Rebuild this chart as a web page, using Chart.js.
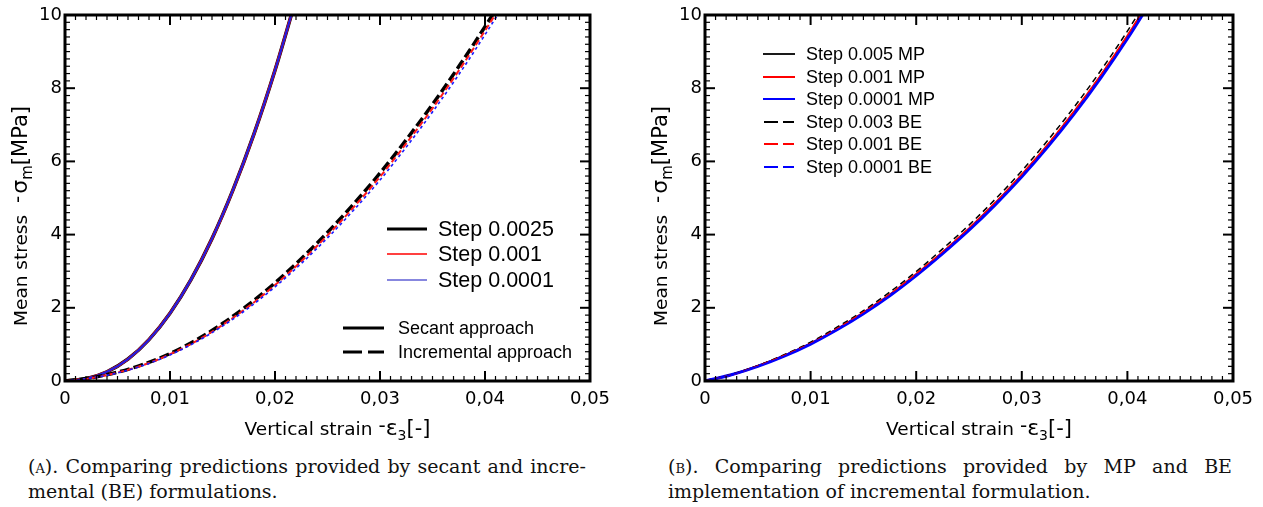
<!DOCTYPE html>
<html>
<head>
<meta charset="utf-8">
<script src="https://cdn.jsdelivr.net/npm/chart.js@4/dist/chart.umd.min.js"></script>
<style>
    body { margin: 0; background: #fff; width: 1263px; height: 507px; position: relative; overflow: hidden; }
    canvas { position: absolute; top: 0; }
    .cap { position: absolute; font-family: "DejaVu Serif", serif; font-size: 19px; line-height: 25px; color: #111; }
    .cap div { text-align: justify; text-align-last: justify; white-space: nowrap; }
    .cap div.last { text-align-last: left; }
    .sc { font-variant: small-caps; }
</style>
</head>
<body>
<canvas id="left" width="640" height="450" style="left:0"></canvas>
<canvas id="right" width="640" height="450" style="left:640px"></canvas>
<div class="cap" style="left:28px; top:454px; width:558px">
    <div>(<span class="sc">a</span>). Comparing predictions provided by secant and incre-</div>
    <div class="last">mental (BE) formulations.</div>
</div>
<div class="cap" style="left:668px; top:454px; width:564px">
    <div>(<span class="sc">b</span>). Comparing predictions provided by MP and BE</div>
    <div class="last">implementation of incremental formulation.</div>
</div>
<script>
// secant formulation (the three step sizes coincide)
const secantStrain = [0, 0.002, 0.004, 0.006, 0.008, 0.010, 0.012, 0.014, 0.016, 0.018, 0.020, 0.022];
const secantStress = [0, 0.06, 0.25, 0.60, 1.13, 1.85, 2.77, 3.89, 5.22, 6.75, 8.49, 10.44];

// incremental formulation, shared strain grid
const incStrain = [0, 0.0025, 0.005, 0.0075, 0.01, 0.0125, 0.015, 0.0175, 0.02, 0.0225,
    0.025, 0.0275, 0.03, 0.0325, 0.035, 0.0375, 0.04, 0.0425];
const incStep0025 = [0, 0.09, 0.24, 0.46, 0.75, 1.12, 1.57, 2.09, 2.68, 3.34, 4.06, 4.84, 5.68, 6.59, 7.56, 8.59, 9.68, 10.82];
const incStep001 = [0, 0.08, 0.23, 0.44, 0.73, 1.09, 1.53, 2.04, 2.62, 3.27, 3.98, 4.75, 5.58, 6.49, 7.45, 8.48, 9.57, 10.71];
const incStep0001 = [0, 0.08, 0.22, 0.43, 0.71, 1.07, 1.50, 2.00, 2.57, 3.21, 3.91, 4.67, 5.49, 6.39, 7.35, 8.37, 9.46, 10.60];

// MP / BE implementations
const mpStep005 = [0, 0.17, 0.41, 0.69, 1.02, 1.41, 1.86, 2.35, 2.90, 3.51, 4.15, 4.85, 5.62, 6.45, 7.35, 8.34, 9.40, 10.55];
const mpStep001 = [0, 0.17, 0.41, 0.69, 1.03, 1.42, 1.87, 2.36, 2.92, 3.52, 4.17, 4.87, 5.64, 6.47, 7.38, 8.36, 9.43, 10.58];
const mpStep0001 = [0, 0.17, 0.40, 0.68, 1.01, 1.40, 1.84, 2.33, 2.88, 3.48, 4.12, 4.82, 5.58, 6.41, 7.31, 8.29, 9.35, 10.50];
const beStep003 = [0, 0.18, 0.42, 0.72, 1.06, 1.47, 1.92, 2.43, 2.99, 3.61, 4.26, 4.97, 5.74, 6.59, 7.50, 8.49, 9.56, 10.72];
const beStep001 = [0, 0.17, 0.41, 0.70, 1.03, 1.43, 1.88, 2.37, 2.93, 3.53, 4.18, 4.88, 5.65, 6.48, 7.39, 8.37, 9.44, 10.60];
const beStep0001 = [0, 0.17, 0.40, 0.68, 1.01, 1.40, 1.84, 2.33, 2.88, 3.49, 4.13, 4.83, 5.59, 6.42, 7.32, 8.30, 9.36, 10.51];

const xTicks = [0, 0.01, 0.02, 0.03, 0.04, 0.05];
const yTicks = [0, 2, 4, 6, 8, 10];

const SANS = '"DejaVu Sans", sans-serif';
const ARIAL = '"Liberation Sans", Arial, sans-serif';

function pts(xs, ys) {
    return xs.map((x, i) => ({ x: x, y: ys[i] }));
}

function series(xs, ys, color, width, dash) {
    return {
        data: pts(xs, ys),
        borderColor: color,
        borderWidth: width,
        borderDash: dash || [],
        pointRadius: 0,
        cubicInterpolationMode: 'monotone',
        fill: false
    };
}

function line(ctx, x0, y0, x1, y1) {
    ctx.beginPath();
    ctx.moveTo(x0, y0);
    ctx.lineTo(x1, y1);
    ctx.stroke();
}

// inner ticks on all four sides plus the heavy frame
const framePlugin = {
    id: 'frame',
    afterDraw(chart) {
        const { ctx, chartArea: a, scales: { x, y } } = chart;
        ctx.save();
        ctx.strokeStyle = '#000';
        for (let i = 0; i <= 50; i++) {
            const px = x.getPixelForValue(i * 0.001);
            const major = i % 10 === 0;
            ctx.lineWidth = major ? 2 : 1.2;
            const len = major ? 10 : 5;
            line(ctx, px, a.bottom, px, a.bottom - len);
            line(ctx, px, a.top, px, a.top + len);
        }
        for (let i = 0; i <= 50; i++) {
            const py = y.getPixelForValue(i * 0.2);
            const major = i % 10 === 0;
            ctx.lineWidth = major ? 2 : 1.2;
            const len = major ? 10 : 5;
            line(ctx, a.left, py, a.left + len, py);
            line(ctx, a.right, py, a.right - len, py);
        }
        ctx.lineWidth = 3;
        ctx.strokeRect(a.left, a.top, a.right - a.left, a.bottom - a.top);
        ctx.restore();
    }
};

// axis titles: plain words, larger symbols, subscripts
function drawPieces(ctx, pieces, startX) {
    let cx = startX;
    for (const p of pieces) {
        ctx.font = p.size + 'px ' + SANS;
        ctx.fillText(p.t, cx + (p.gap || 0), p.dy || 0);
        cx += ctx.measureText(p.t).width + (p.gap || 0);
    }
}

function piecesWidth(ctx, pieces) {
    let w = 0;
    for (const p of pieces) {
        ctx.font = p.size + 'px ' + SANS;
        w += ctx.measureText(p.t).width + (p.gap || 0);
    }
    return w;
}

const xTitle = [
    { t: 'Vertical strain', size: 18.5 },
    { t: '-', size: 20, gap: 6, dy: -3 },
    { t: 'ε', size: 22 },
    { t: '3', size: 14, dy: 5 },
    { t: '[-]', size: 21 }
];
const yTitle = [
    { t: 'Mean stress', size: 18.5 },
    { t: '-', size: 20, gap: 12, dy: -3 },
    { t: 'σ', size: 22, gap: 2 },
    { t: 'm', size: 15, dy: 5 },
    { t: '[MPa]', size: 21 }
];

const titlePlugin = {
    id: 'titles',
    afterDraw(chart) {
        const { ctx, chartArea: a } = chart;
        ctx.save();
        ctx.fillStyle = '#000';
        ctx.textBaseline = 'alphabetic';
        ctx.textAlign = 'left';
        const cx = (a.left + a.right) / 2 + 10;
        ctx.save();
        ctx.translate(cx, 435);
        drawPieces(ctx, xTitle, -piecesWidth(ctx, xTitle) / 2);
        ctx.restore();
        ctx.save();
        ctx.translate(a.left - 38, 216);
        ctx.rotate(-Math.PI / 2);
        drawPieces(ctx, yTitle, -piecesWidth(ctx, yTitle) / 2);
        ctx.restore();
        ctx.restore();
    }
};

function legendPlugin(items) {
    return {
        id: 'legendBox',
        afterDraw(chart) {
            const ctx = chart.ctx;
            ctx.save();
            ctx.textBaseline = 'middle';
            ctx.textAlign = 'left';
            ctx.fillStyle = '#000';
            for (const it of items) {
                ctx.strokeStyle = it.color;
                ctx.lineWidth = it.width;
                ctx.setLineDash(it.dash || []);
                line(ctx, it.x0, it.y, it.x1, it.y);
                ctx.setLineDash([]);
                ctx.font = it.size + 'px ' + ARIAL;
                ctx.fillText(it.label, it.tx, it.y + 1);
            }
            ctx.restore();
        }
    };
}

function makeOptions(padRight) {
    return {
        responsive: false,
        animation: false,
        events: [],
        layout: { padding: { left: 0, top: 15, right: padRight, bottom: 0 } },
        plugins: { legend: { display: false }, tooltip: { enabled: false } },
        scales: {
            x: {
                type: 'linear',
                min: 0,
                max: 0.05,
                afterFit: s => { s.height = 69; },
                afterBuildTicks: s => { s.ticks = xTicks.map(v => ({ value: v })); },
                grid: { display: false, drawTicks: false },
                border: { display: false },
                ticks: {
                    padding: 8,
                    maxRotation: 0,
                    autoSkip: false,
                    color: '#000',
                    font: { family: SANS, size: 18 },
                    callback: v => (v === 0 ? '0' : v.toFixed(2).replace('.', ','))
                }
            },
            y: {
                type: 'linear',
                min: 0,
                max: 10,
                afterFit: s => { s.width = 65; },
                afterBuildTicks: s => { s.ticks = yTicks.map(v => ({ value: v })); },
                grid: { display: false, drawTicks: false },
                border: { display: false },
                ticks: {
                    padding: 3,
                    autoSkip: false,
                    color: '#000',
                    font: { family: SANS, size: 18 },
                    callback: v => String(v)
                }
            }
        }
    };
}

// datasets are drawn last-to-first, so the first entry ends up on top
new Chart(document.getElementById('left'), {
    type: 'line',
    data: {
        datasets: [
            series(incStrain, incStep0001, '#1a1aff', 1.6, [3, 3]),
            series(incStrain, incStep001, '#ff1a1a', 2, [6, 3]),
            series(incStrain, incStep0025, '#000', 3.5, [10, 4]),
            series(secantStrain, secantStress, '#1f1fe0', 2.2),
            series(secantStrain, secantStress, '#ff0000', 2.8),
            series(secantStrain, secantStress, '#000', 3.6)
        ]
    },
    options: makeOptions(50),
    plugins: [framePlugin, titlePlugin, legendPlugin([
        { label: 'Step 0.0025', color: '#000', width: 3, x0: 387, x1: 427, y: 229, tx: 438, size: 21.5 },
        { label: 'Step 0.001', color: '#ff0000', width: 1.5, x0: 387, x1: 427, y: 254, tx: 438, size: 21.5 },
        { label: 'Step 0.0001', color: '#1010c0', width: 1.2, x0: 387, x1: 427, y: 280, tx: 438, size: 21.5 },
        { label: 'Secant approach', color: '#000', width: 3, x0: 343, x1: 384, y: 328, tx: 398, size: 18 },
        { label: 'Incremental approach', color: '#000', width: 3, dash: [19, 6], x0: 343, x1: 384, y: 352, tx: 398, size: 18 }
    ])]
});

new Chart(document.getElementById('right'), {
    type: 'line',
    data: {
        datasets: [
            series(incStrain, beStep0001, '#0000ff', 1.5, [6, 4]),
            series(incStrain, beStep001, '#ff0000', 1.5, [6, 4]),
            series(incStrain, beStep003, '#000', 1.5, [6, 4]),
            series(incStrain, mpStep0001, '#0000ff', 3),
            series(incStrain, mpStep001, '#ff0000', 2),
            series(incStrain, mpStep005, '#000', 2)
        ]
    },
    options: makeOptions(47),
    plugins: [framePlugin, titlePlugin, legendPlugin([
        { label: 'Step 0.005 MP', color: '#000', width: 1.8, x0: 123, x1: 155, y: 54, tx: 166, size: 18 },
        { label: 'Step 0.001 MP', color: '#ff0000', width: 2, x0: 123, x1: 155, y: 77, tx: 166, size: 18 },
        { label: 'Step 0.0001 MP', color: '#0000ff', width: 2, x0: 123, x1: 155, y: 99, tx: 166, size: 18 },
        { label: 'Step 0.003 BE', color: '#000', width: 2, dash: [14, 5], x0: 124, x1: 154, y: 122, tx: 166, size: 18 },
        { label: 'Step 0.001 BE', color: '#ff0000', width: 2, dash: [14, 5], x0: 124, x1: 154, y: 144, tx: 166, size: 18 },
        { label: 'Step 0.0001 BE', color: '#0000ff', width: 2, dash: [14, 5], x0: 124, x1: 154, y: 167, tx: 166, size: 18 }
    ])]
});
</script>
</body>
</html>
